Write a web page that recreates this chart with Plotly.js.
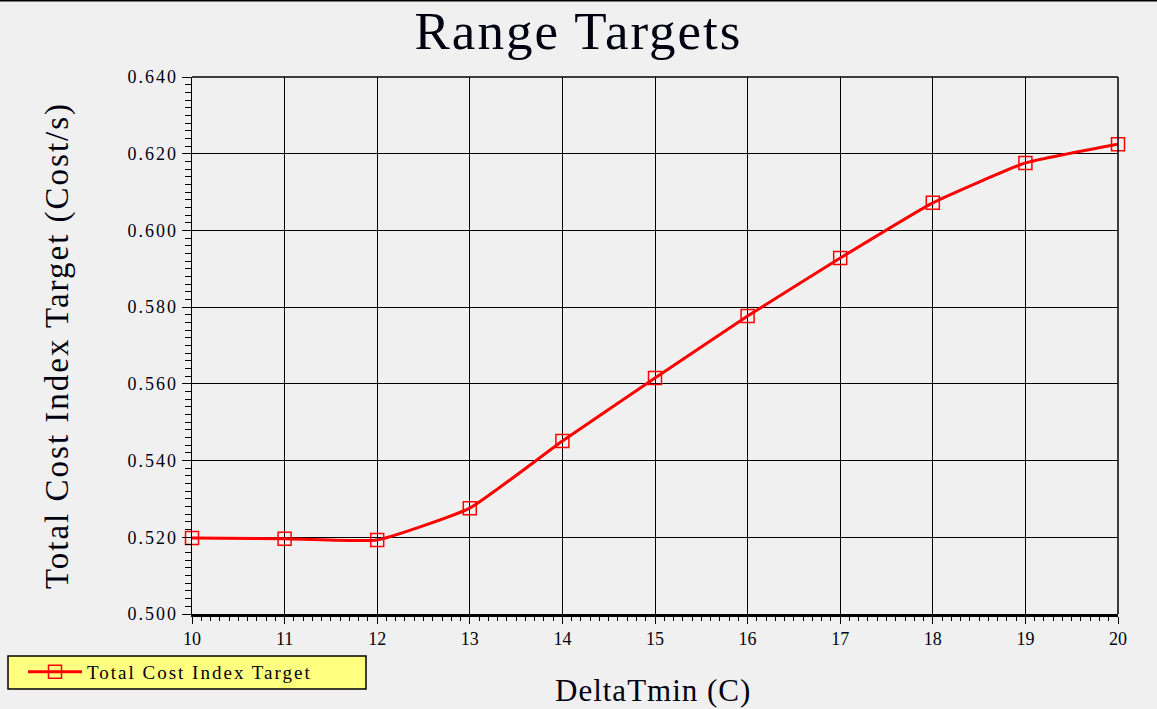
<!DOCTYPE html>
<html>
<head>
<meta charset="utf-8">
<script src="https://cdn.plot.ly/plotly-3.0.1.min.js"></script>
<style>
html,body{margin:0;padding:0;background:#f0f0f0;}
#chart{width:1157px;height:709px;}
.gtitle{letter-spacing:2px;}
.annotation-text{letter-spacing:1px;}
.ytitle{letter-spacing:2px;}
.ytick text{letter-spacing:2px;}
.legendtext{letter-spacing:2px;}
</style>
</head>
<body>
<div id="chart"></div>
<script>
const deltaTmin = [10, 11, 12, 13, 14, 15, 16, 17, 18, 19, 20];
const totalCostIndexTarget = [0.5198, 0.5196, 0.5193, 0.5276, 0.5451, 0.5615, 0.5777, 0.5928, 0.6072, 0.6176, 0.6225];
const yTickVals = [0.50, 0.52, 0.54, 0.56, 0.58, 0.60, 0.62, 0.64];
const xTickVals = [10, 11, 12, 13, 14, 15, 16, 17, 18, 19, 20];
const seriesName = 'Total Cost Index Target';
const xTitle = 'DeltaTmin (C)';
const yTitle = 'Total Cost Index Target (Cost/s)';

const W = 1157, H = 709;
const L = 192, R = 39, T = 77, B = 95;
const pw = W - L - R, ph = H - T - B;
const FONT = '"Liberation Serif", "Times New Roman", serif';
const TXT = '#000010';
const px2x = p => (p - L) / pw;
const py2y = p => (H - B - p) / ph;

const trace = {
  x: deltaTmin,
  y: totalCostIndexTarget,
  name: seriesName,
  type: 'scatter',
  mode: 'lines+markers',
  line: {color: '#ff0000', width: 3, shape: 'spline', smoothing: 0.4},
  marker: {symbol: 'square-open', size: 13, color: '#ff0000', line: {color: '#ff0000', width: 1.5}},
  cliponaxis: false
};

const layout = {
  width: W, height: H,
  paper_bgcolor: '#f0f0f0',
  plot_bgcolor: '#f0f0f0',
  margin: {l: L, r: R, t: T, b: B, pad: 0, autoexpand: false},
  font: {family: FONT, color: TXT, size: 18},
  title: {
    text: 'Range Targets',
    font: {family: FONT, size: 53, color: TXT},
    x: 0.5, xref: 'container', xanchor: 'center',
    y: 1 - 30 / H, yref: 'container', yanchor: 'middle'
  },
  xaxis: {
    range: [10, 20],
    tickvals: xTickVals,
    ticks: 'outside', ticklen: 7, tickwidth: 1, tickcolor: '#000',
    tickfont: {family: FONT, size: 18, color: TXT},
    showgrid: true, gridcolor: '#000', gridwidth: 1,
    zeroline: false,
    showline: true, linecolor: '#000', linewidth: 2.5, mirror: false,
    minor: {dtick: 0.1, ticks: 'outside', ticklen: 4, tickcolor: '#000', tickwidth: 1, showgrid: false},
    fixedrange: true
  },
  yaxis: {
    range: [0.5, 0.64],
    tickvals: yTickVals,
    tickformat: '.3f',
    ticks: 'outside', ticklen: 9, tickwidth: 1, tickcolor: '#000',
    tickfont: {family: FONT, size: 18, color: TXT},
    showgrid: true, gridcolor: '#000', gridwidth: 1,
    zeroline: false,
    showline: true, linecolor: '#000', linewidth: 1.5, mirror: false,
    minor: {dtick: 0.002, ticks: 'outside', ticklen: 6, tickcolor: '#000', tickwidth: 1, showgrid: false},
    title: {text: yTitle, font: {family: FONT, size: 33, color: TXT}, standoff: 49},
    fixedrange: true
  },
  annotations: [
    {text: xTitle, xref: 'paper', yref: 'paper', x: px2x(653), y: py2y(690), xanchor: 'center', yanchor: 'middle',
     showarrow: false, font: {family: FONT, size: 31, color: TXT}}
  ],
  shapes: [
    {type: 'line', xref: 'paper', yref: 'paper', x0: 0, x1: 1, y0: 1, y1: 1, line: {color: '#000', width: 1.5}},
    {type: 'line', xref: 'paper', yref: 'paper', x0: 1, x1: 1, y0: 0, y1: 1, line: {color: '#000', width: 1.5}},
    {type: 'line', xref: 'paper', yref: 'paper', x0: px2x(0), x1: px2x(W), y0: py2y(0), y1: py2y(0), line: {color: '#000', width: 3}},
    {type: 'rect', layer: 'below', xref: 'paper', yref: 'paper', x0: px2x(8), x1: px2x(366), y0: py2y(656), y1: py2y(689),
     fillcolor: '#ffff80', line: {color: '#000', width: 1.5}}
  ],
  showlegend: true,
  legend: {
    xref: 'container', yref: 'container',
    x: 23 / W, y: 1 - 672 / H, xanchor: 'left', yanchor: 'middle',
    orientation: 'h',
    bgcolor: 'rgba(0,0,0,0)', borderwidth: 0,
    font: {family: FONT, size: 19, color: TXT},
    itemwidth: 54
  }
};

Plotly.newPlot('chart', [trace], layout, {displayModeBar: false, staticPlot: true});
</script>
</body>
</html>
